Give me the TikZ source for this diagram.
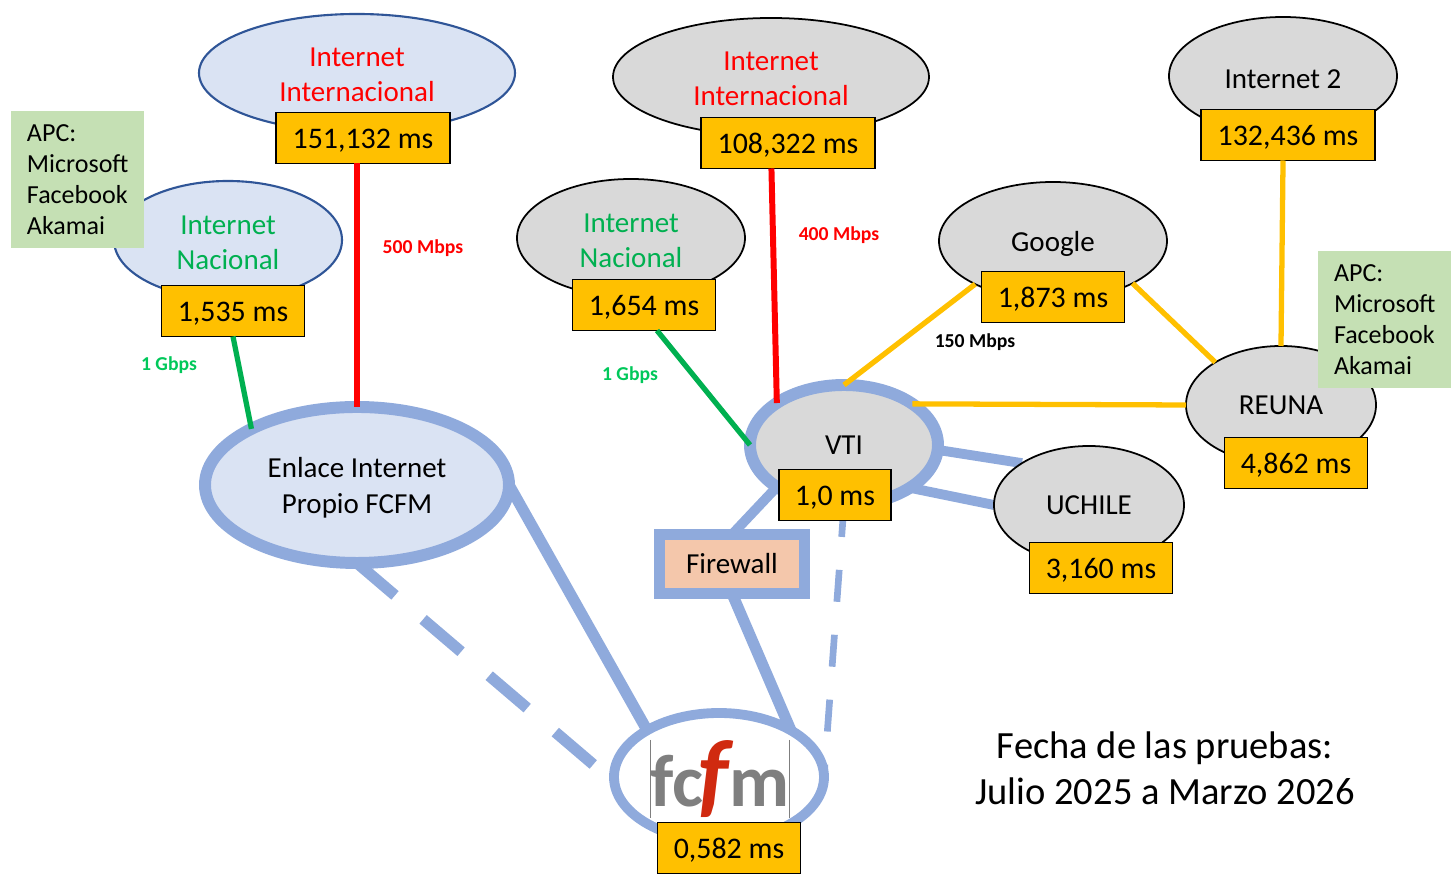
\documentclass[tikz,border=0pt]{standalone}
\usepackage{fontspec}
\setmainfont{Carlito}
\usetikzlibrary{shapes.geometric,backgrounds}
\definecolor{azulClaro}{HTML}{DAE3F3}
\definecolor{azulBorde}{HTML}{2F5597}
\definecolor{azulLinea}{HTML}{8FAADC}
\definecolor{grisNube}{HTML}{D9D9D9}
\definecolor{amarillo}{HTML}{FFC000}
\definecolor{verdeNota}{HTML}{C5E0B4}
\definecolor{verdeTexto}{HTML}{00B050}
\definecolor{verdeVel}{HTML}{00C85A}
\definecolor{naranjaFw}{HTML}{F4C7AB}
\definecolor{grisLogo}{HTML}{7F7F7F}
\definecolor{rojoLogo}{HTML}{D02A10}
\tikzset{
	alto/.style={execute at begin node={\rule{0pt}{#1}}},
	nube/.style={ellipse,draw,inner sep=0pt,outer sep=0pt,align=center,font=\fontsize{8.25}{10}\selectfont,minimum width=228*0.01cm,minimum height=118*0.01cm},
	nubeAzul/.style={nube,fill=azulClaro,draw=azulBorde,line width=0.6pt},
	nubeGris/.style={nube,fill=grisNube,draw=black,line width=0.5pt},
	nubeAnillo/.style={nube,draw=azulLinea,line width=3.4pt},
	cajaMs/.style={draw=black,fill=amarillo,line width=0.5pt,inner sep=0pt,outer sep=0pt,minimum width=143*0.01cm,minimum height=51*0.01cm,font=\fontsize{8.5}{10}\selectfont,alto=6.9pt},
	nota/.style={fill=verdeNota,inner sep=0pt,minimum width=133*0.01cm,minimum height=137*0.01cm,text width=101*0.01cm,align=left,font=\fontsize{7.4}{8.8}\selectfont},
	velocidad/.style={font=\fontsize{5.6}{6}\selectfont\bfseries,inner sep=0pt},
	lineaAzul/.style={draw=azulLinea,line width=3.2pt},
	lineaAmarilla/.style={draw=amarillo,line width=1.5pt},
	lineaRoja/.style={draw=red,line width=1.7pt},
	lineaVerde/.style={draw=verdeTexto,line width=1.5pt}
}
\begin{document}
\begin{tikzpicture}[x=0.01cm,y=-0.01cm]
	\useasboundingbox (0,0) rectangle (1453,877);
	% nubes
	\node[nubeAzul,alto=16.3pt,minimum width=316*0.01cm,text=red] (intA) at (357,73) {Internet\\Internacional};
	\node[nubeAzul,alto=16.8pt,text=verdeTexto] (nacA) at (228,240) {Internet\\Nacional};
	\node[nubeGris,alto=16.3pt,minimum width=316*0.01cm,text=red] (intB) at (771,77) {Internet\\Internacional};
	\node[nubeGris,alto=16.8pt,text=verdeTexto] (nacB) at (631,238) {Internet\\Nacional};
	\node[nubeGris,alto=7.6pt] (google) at (1053,241) {Google};
	\node[nubeGris,alto=7pt] (int2) at (1283,76) {Internet 2};
	\node[nubeGris,minimum width=190*0.01cm] (reuna) at (1281,405) {REUNA};
	\node[nubeGris,minimum width=190*0.01cm] (uchile) at (1089,505) {UCHILE};
	\node[nubeAnillo,fill=grisNube,minimum width=188*0.01cm,minimum height=120*0.01cm] (vti) at (844,445) {VTI};
	\node[nubeAnillo,alto=17.3pt,fill=azulClaro,minimum width=304*0.01cm,minimum height=156*0.01cm] (enlace) at (357,485) {Enlace Internet\\Propio FCFM};
	\node[nubeAnillo,fill=white,line width=2.8pt,minimum width=210*0.01cm,minimum height=128*0.01cm] (fcfm) at (719,777) {};
	\node[draw=azulLinea,fill=naranjaFw,line width=3.4pt,inner sep=0pt,outer sep=0pt,minimum width=145*0.01cm,minimum height=59*0.01cm,font=\fontsize{8.25}{10}\selectfont] (firewall) at (732,564) {Firewall};
	% logo
	\node[inner sep=0pt,minimum width=134*0.01cm,minimum height=77*0.01cm,font=\fontsize{21}{21}\selectfont\bfseries,text=grisLogo] (logo) at (720,779) {fc\kern-1.4pt\textcolor{rojoLogo}{\fontsize{27}{27}\selectfont\textit{f}}\kern-1.4pt m};
	\draw[grisLogo,line width=0.3pt] (logo.north west) -- (logo.south west);
	\draw[grisLogo,line width=0.3pt] (logo.north east) -- (logo.south east);
	% cajas
	\node[cajaMs,minimum width=174*0.01cm] (msIntA) at (363,138) {151,132 ms};
	\node[cajaMs] (msNacA) at (233,311) {1,535 ms};
	\node[cajaMs,minimum width=174*0.01cm] (msIntB) at (788,143) {108,322 ms};
	\node[cajaMs] (msNacB) at (644,305) {1,654 ms};
	\node[cajaMs] (msGoogle) at (1053,297) {1,873 ms};
	\node[cajaMs,minimum width=174*0.01cm] (msInt2) at (1288,135) {132,436 ms};
	\node[cajaMs] (msReuna) at (1296,463) {4,862 ms};
	\node[cajaMs] (msUchile) at (1101,568) {3,160 ms};
	\node[cajaMs,minimum width=112*0.01cm] (msVti) at (835,495) {1,0 ms};
	\node[cajaMs] (msFcfm) at (729,848) {0,582 ms};
	% notas
	\node[nota] (notaA) at (77.5,179.5) {APC:\\Microsoft\\Facebook\\Akamai};
	\node[nota] (notaB) at (1384.5,319.5) {APC:\\Microsoft\\Facebook\\Akamai};
	% enlaces azules, por debajo
	\begin{scope}[on background layer]
		\draw[lineaAzul] (enlace.east) -- (fcfm.147);
		\draw[lineaAzul,dash pattern=on 14.2pt off 10.5pt] (enlace.south) -- (fcfm.183);
		\draw[lineaAzul,line width=1.9pt,dash pattern=on 9.1pt off 9.4pt] (vti.south) -- (fcfm.east);
		\draw[lineaAzul,line width=2.8pt] (vti.212) -- (firewall.north);
		\draw[lineaAzul] (firewall.south) -- (fcfm.33);
		\draw[lineaAzul,line width=2.8pt] (vti.357) -- (uchile.148);
		\draw[lineaAzul,line width=2.8pt] (vti.327) -- (uchile.west);
	\end{scope}
	% enlaces
	\draw[lineaRoja] (msIntA.south -| enlace.north) -- (enlace.north);
	\draw[lineaRoja] (msIntB.237) -- (vti.148);
	\draw[lineaVerde] (msNacA.south) -- (enlace.152);
	\draw[lineaVerde] (msNacB.297) -- (vti.west);
	\draw[lineaAmarilla] (vti.north) -- (google.209);
	\draw[lineaAmarilla] (google.332) -- (reuna.147);
	\draw[lineaAmarilla] (vti.31) -- (reuna.west);
	\draw[lineaAmarilla] (msInt2.259) -- (reuna.north);
	% velocidades
	\node[velocidad,text=red] (velA) at (423,248) {500 Mbps};
	\node[velocidad,text=red] (velB) at (839,235) {400 Mbps};
	\node[velocidad,text=verdeVel] (velC) at (169,365) {1 Gbps};
	\node[velocidad,text=verdeVel] (velD) at (630,375) {1 Gbps};
	\node[velocidad] (velE) at (975,342) {150 Mbps};
	% fecha
	\node[align=center,inner sep=0pt,font=\fontsize{10.95}{13.1}\selectfont] (fecha) at (1165,768) {Fecha de las pruebas:\\Julio 2025 a Marzo 2026};
\end{tikzpicture}
\end{document}
